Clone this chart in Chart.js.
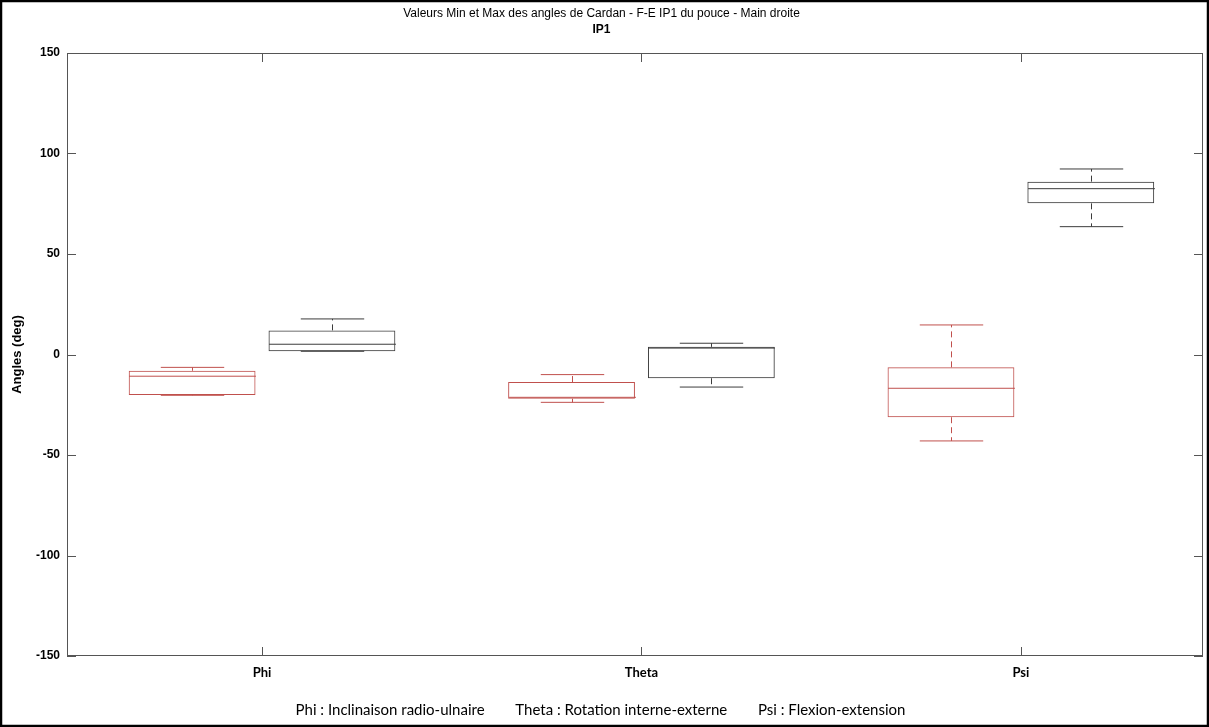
<!DOCTYPE html>
<html>
<head>
<meta charset="utf-8">
<script src="https://cdn.jsdelivr.net/npm/chart.js@4/dist/chart.umd.min.js"></script>
<style>
  html, body { margin: 0; padding: 0; background: #fff; }
  canvas { display: block; }
</style>
</head>
<body>
<canvas id="myChart" width="1209" height="727"></canvas>
<script>
// categories and box statistics (degrees)
const categories = ['Phi', 'Theta', 'Psi'];

const redMin = [-20.3, -23.8, -43.0];
const redQ1 = [-20.1, -22.0, -31.2];
const redMedian = [-10.8, -21.3, -16.8];
const redQ3 = [-8.1, -13.7, -6.4];
const redMax = [-6.4, -10.0, 14.7];

const blackMin = [1.6, -16.2, 63.6];
const blackQ1 = [1.6, -11.8, 75.2];
const blackMedian = [5.1, 3.2, 82.5];
const blackQ3 = [12.0, 3.8, 86.0];
const blackMax = [17.7, 5.6, 92.3];

const yTicks = [-150, -100, -50, 0, 50, 100, 150];
const note = 'Phi : Inclinaison radio-ulnaire        Theta : Rotation interne-externe        Psi : Flexion-extension';

const RED = '#c0504d';
const DARK = '#3c3c3c';
const AXIS = '#555555';

const stats = [
  { min: redMin, q1: redQ1, med: redMedian, q3: redQ3, max: redMax },
  { min: blackMin, q1: blackQ1, med: blackMedian, q3: blackQ3, max: blackMax }
];

// whiskers, medians, caps drawn on top of the floating bars
const boxPlugin = {
  id: 'boxParts',
  afterDatasetsDraw(chart) {
    const ctx = chart.ctx;
    const y = chart.scales.y;
    chart.data.datasets.forEach((ds, di) => {
      const meta = chart.getDatasetMeta(di);
      const s = stats[di];
      meta.data.forEach((bar, i) => {
        const half = bar.width / 2;
        const cx = Math.round(bar.x) + 0.5;
        ctx.save();
        ctx.strokeStyle = ds.borderColor;
        ctx.lineWidth = 1;
        // median
        ctx.beginPath();
        ctx.moveTo(cx - half, y.getPixelForValue(s.med[i]));
        ctx.lineTo(cx + half, y.getPixelForValue(s.med[i]));
        ctx.stroke();
        // whiskers (dashed)
        ctx.setLineDash([6, 4]);
        ctx.beginPath();
        ctx.moveTo(cx, y.getPixelForValue(s.q3[i]));
        ctx.lineTo(cx, y.getPixelForValue(s.max[i]));
        ctx.moveTo(cx, y.getPixelForValue(s.q1[i]));
        ctx.lineTo(cx, y.getPixelForValue(s.min[i]));
        ctx.stroke();
        // caps
        ctx.setLineDash([]);
        ctx.beginPath();
        ctx.moveTo(cx - half / 2, y.getPixelForValue(s.max[i]));
        ctx.lineTo(cx + half / 2, y.getPixelForValue(s.max[i]));
        ctx.moveTo(cx - half / 2, y.getPixelForValue(s.min[i]));
        ctx.lineTo(cx + half / 2, y.getPixelForValue(s.min[i]));
        ctx.stroke();
        ctx.restore();
      });
    });
  }
};

// MATLAB-like frame: inside ticks on all four sides, outer black border, bottom note
const framePlugin = {
  id: 'frame',
  beforeDraw(chart) {
    const ctx = chart.ctx;
    ctx.save();
    ctx.fillStyle = '#fff';
    ctx.fillRect(0, 0, chart.width, chart.height);
    ctx.restore();
  },
  afterDraw(chart) {
    const ctx = chart.ctx;
    const a = chart.chartArea;
    const x = chart.scales.x;
    const y = chart.scales.y;
    ctx.save();
    ctx.strokeStyle = AXIS;
    ctx.lineWidth = 1;
    ctx.strokeRect(a.left + 0.5, a.top + 0.5, a.right - a.left - 1, a.bottom - a.top - 1);
    ctx.beginPath();
    y.ticks.forEach(t => {
      const py = Math.round(y.getPixelForValue(t.value)) + 0.5;
      ctx.moveTo(a.left, py); ctx.lineTo(a.left + 9, py);
      ctx.moveTo(a.right, py); ctx.lineTo(a.right - 9, py);
    });
    x.ticks.forEach(t => {
      const px = Math.round(x.getPixelForValue(t.value)) + 0.5;
      ctx.moveTo(px, a.bottom); ctx.lineTo(px, a.bottom - 9);
      ctx.moveTo(px, a.top); ctx.lineTo(px, a.top + 9);
    });
    ctx.stroke();

    ctx.fillStyle = '#000';
    ctx.font = '15px Lato, "Open Sans", sans-serif';
    ctx.textAlign = 'center';
    ctx.textBaseline = 'middle';
    ctx.fillText(note, chart.width / 2 - 4, 710);

    ctx.strokeStyle = '#000';
    ctx.lineWidth = 2.5;
    ctx.strokeRect(1, 1, chart.width - 2, chart.height - 2);
    ctx.restore();
  }
};

const data = {
  datasets: [
    {
      label: 'Min',
      data: categories.map((_, i) => ({ x: i + 1, y: [redQ1[i], redQ3[i]] })),
      backgroundColor: 'rgba(0,0,0,0)',
      borderColor: RED,
      borderWidth: 1,
      borderSkipped: false
    },
    {
      label: 'Max',
      data: categories.map((_, i) => ({ x: i + 1, y: [blackQ1[i], blackQ3[i]] })),
      backgroundColor: 'rgba(0,0,0,0)',
      borderColor: DARK,
      borderWidth: 1,
      borderSkipped: false
    }
  ]
};

const config = {
  type: 'bar',
  data: data,
  plugins: [framePlugin, boxPlugin],
  options: {
    responsive: false,
    animation: false,
    layout: { padding: { top: 0, right: 6, bottom: 0, left: 0 } },
    datasets: {
      bar: { categoryPercentage: 0.737, barPercentage: 0.907 }
    },
    plugins: {
      legend: { display: false },
      tooltip: { enabled: false },
      title: {
        display: true,
        text: 'Valeurs Min et Max des angles de Cardan - F-E IP1 du pouce - Main droite',
        color: '#000',
        font: { family: '"Liberation Sans", Arial, sans-serif', size: 12, weight: 'normal', lineHeight: 1.2 },
        padding: { top: 6, bottom: 2 }
      },
      subtitle: {
        display: true,
        text: 'IP1',
        color: '#000',
        font: { family: '"Liberation Sans", Arial, sans-serif', size: 12, weight: 'bold', lineHeight: 1.2 },
        padding: { top: 0, bottom: 16.2 }
      }
    },
    scales: {
      x: {
        type: 'linear',
        offset: false,
        min: 0.486,
        max: 3.48,
        afterBuildTicks(scale) { scale.ticks = categories.map((_, i) => ({ value: i + 1 })); },
        grid: { display: false, drawTicks: false, offset: false },
        border: { display: false },
        ticks: {
          color: '#000',
          padding: 9,
          font: { family: 'Lato, "Open Sans", sans-serif', size: 13, weight: 'bold' },
          callback: (v) => categories[Math.round(v) - 1]
        },
        afterFit(scale) { scale.height = 71; }
      },
      y: {
        min: -150,
        max: 150,
        afterBuildTicks(scale) { scale.ticks = yTicks.map(v => ({ value: v })); },
        grid: { display: false, drawTicks: false },
        border: { display: false },
        ticks: {
          color: '#000',
          padding: 7,
          font: { family: '"Liberation Sans", Arial, sans-serif', size: 12, weight: 'bold' }
        },
        title: {
          display: true,
          text: 'Angles (deg)',
          color: '#000',
          font: { family: '"Liberation Sans", Arial, sans-serif', size: 13, weight: 'bold', lineHeight: 1.2 },
          padding: { top: 10, bottom: 0 }
        },
        afterFit(scale) { scale.width = 67; }
      }
    }
  }
};

new Chart(document.getElementById('myChart'), config);
</script>
</body>
</html>
